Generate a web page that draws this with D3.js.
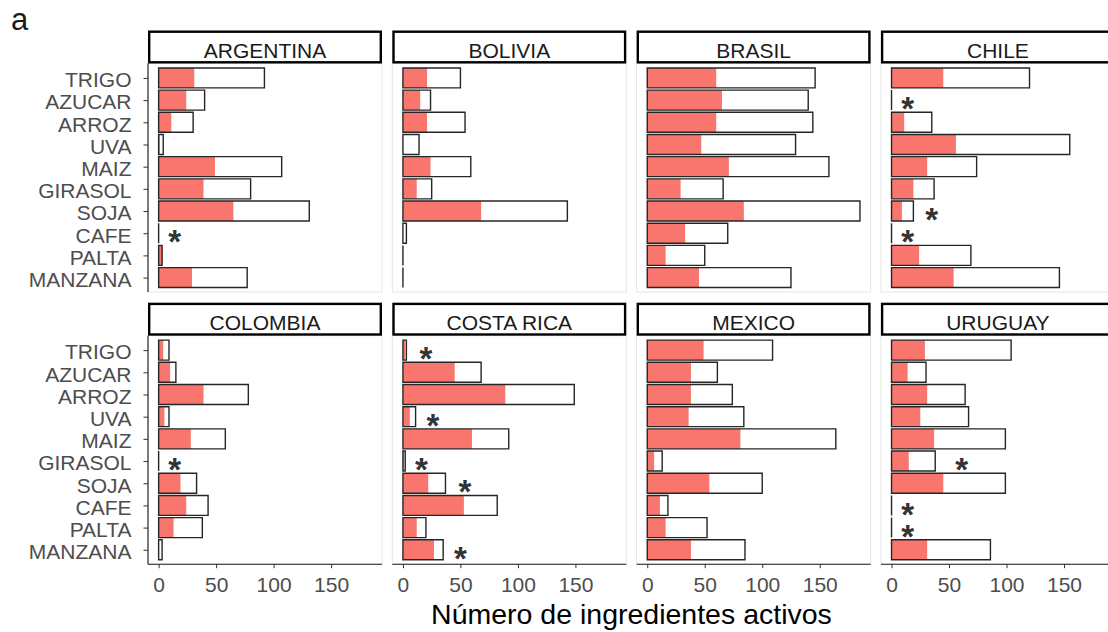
<!DOCTYPE html>
<html>
<head>
<meta charset="utf-8">
<script src="https://cdn.jsdelivr.net/npm/d3@7"></script>
<style>
  html, body { margin: 0; padding: 0; background: #fff; }
  svg { display: block; font-family: "Liberation Sans", Arial, sans-serif; }
</style>
</head>
<body>
<svg id="chart" width="1108" height="632"></svg>
<script>
// Countries (facets, row-major) and crops (rows of every facet)
const countries = ["ARGENTINA", "BOLIVIA", "BRASIL", "CHILE",
                   "COLOMBIA", "COSTA RICA", "MEXICO", "URUGUAY"];
const crops = ["TRIGO", "AZUCAR", "ARROZ", "UVA", "MAIZ",
               "GIRASOL", "SOJA", "CAFE", "PALTA", "MANZANA"];

// Total active ingredients registered per crop (one list per country)
const totalActivos = [
  [92, 40, 30, 4, 107, 80, 131, 0, 3, 77],     // ARGENTINA
  [50, 24, 54, 14, 59, 25, 143, 3, 0, 0],      // BOLIVIA
  [146, 140, 144, 129, 158, 66, 185, 70, 50, 125], // BRASIL
  [120, 0, 35, 155, 74, 37, 19, 0, 69, 146],   // CHILE
  [9, 15, 78, 9, 58, 0, 33, 43, 38, 3],        // COLOMBIA
  [3, 68, 149, 11, 92, 2, 37, 82, 20, 35],     // COSTA RICA
  [109, 61, 74, 84, 164, 13, 100, 18, 52, 85], // MEXICO
  [104, 30, 64, 67, 99, 38, 99, 0, 0, 86]      // URUGUAY
];

// Highlighted subset of those active ingredients (red part of each bar)
const activosDestacados = [
  [31, 24, 11, 1, 49, 39, 65, 0, 3, 29],
  [21, 15, 21, 0, 24, 12, 68, 0, 0, 0],
  [60, 65, 60, 47, 71, 29, 84, 33, 16, 45],
  [45, 0, 11, 56, 31, 19, 9, 0, 24, 54],
  [4, 10, 39, 5, 28, 0, 19, 24, 13, 0],
  [2, 45, 89, 6, 60, 1, 22, 53, 12, 27],
  [49, 38, 38, 36, 81, 6, 54, 11, 16, 38],
  [29, 14, 31, 25, 37, 15, 45, 0, 0, 31]
];

// Asterisk annotations: [country, crop, value on the x axis where the mark sits]
const asteriscos = [
  ["ARGENTINA", "CAFE", 14],
  ["CHILE", "AZUCAR", 14], ["CHILE", "SOJA", 35], ["CHILE", "CAFE", 14],
  ["COLOMBIA", "GIRASOL", 14],
  ["COSTA RICA", "TRIGO", 20], ["COSTA RICA", "UVA", 26], ["COSTA RICA", "GIRASOL", 16],
  ["COSTA RICA", "SOJA", 54], ["COSTA RICA", "MANZANA", 50],
  ["URUGUAY", "GIRASOL", 61], ["URUGUAY", "CAFE", 14], ["URUGUAY", "PALTA", 14]
];

const xTicks = [0, 50, 100, 150];
const xTitle = "Número de ingredientes activos";
const panelTag = "a";

// ---- layout ----
const svg = d3.select("#chart");
const nCols = 4;
const panelW = 234, panelH = 228.5;
const colStep = 244.3, rowStep = 272.2;
const left0 = 148, plotTop0 = 63.5;
const stripH = 33;
const red = "#F8766D";
const starSize = 33;

const maxVal = d3.max(totalActivos.flat());
const pad = maxVal * 0.05;
const x = d3.scaleLinear().domain([-pad, maxVal + pad]).range([0, panelW]);
const y = d3.scalePoint().domain(crops).range([0, panelH]).padding(0.65);
const bandH = y.step() * 0.9;

const barPath = d => {
  const x0 = x(0), x1 = x(d.total);
  const y0 = y(d.crop) - bandH / 2, y1 = y(d.crop) + bandH / 2;
  return `M${x0},${y0}H${x1}V${y1}H${x0}Z`;
};

countries.forEach((country, ci) => {
  const col = ci % nCols, row = Math.floor(ci / nCols);
  const px = left0 + col * colStep;
  const py = plotTop0 + row * rowStep;
  const g = svg.append("g").attr("transform", `translate(${px},${py})`);

  // light panel frame
  g.append("rect")
    .attr("x", 0).attr("y", 0).attr("width", panelW).attr("height", panelH)
    .attr("fill", "#fff").attr("stroke", "#e6e6e6").attr("stroke-width", 1);

  const rows = crops.map((crop, k) => ({
    crop, total: totalActivos[ci][k], part: activosDestacados[ci][k]
  }));

  // outlined total bars (white fill)
  g.selectAll("path.total").data(rows).join("path")
    .attr("class", "total")
    .attr("d", barPath)
    .attr("fill", "#fff");

  // highlighted part
  g.selectAll("rect.part").data(rows.filter(d => d.part > 0)).join("rect")
    .attr("class", "part")
    .attr("x", x(0))
    .attr("y", d => y(d.crop) - bandH / 2)
    .attr("width", d => x(d.part) - x(0))
    .attr("height", bandH)
    .attr("fill", red);

  // bar outlines on top
  g.selectAll("path.outline").data(rows).join("path")
    .attr("class", "outline")
    .attr("d", barPath)
    .attr("fill", "none")
    .attr("stroke", "#262626")
    .attr("stroke-width", 1.4);

  // asterisks
  g.selectAll("text.star").data(asteriscos.filter(a => a[0] === country)).join("text")
    .attr("class", "star")
    .attr("x", d => x(d[2]))
    .attr("y", d => y(d[1]) + 2 + 0.55 * starSize)
    .attr("text-anchor", "middle")
    .attr("font-size", starSize)
    .attr("font-weight", "bold")
    .attr("fill", "#333")
    .text("*");

  // y axis on the left column
  if (col === 0) {
    const ay = g.append("g").call(d3.axisLeft(y).tickSize(4.5).tickPadding(12));
    ay.select(".domain").attr("stroke", "#1a1a1a").attr("stroke-width", 1.1)
      .attr("d", `M0,0V${panelH}`);
    ay.selectAll(".tick line").attr("stroke", "#333");
    ay.selectAll(".tick text").attr("fill", "#4d4d4d").attr("font-size", 21)
      .attr("dy", "0.42em").attr("font-family", "Liberation Sans, Arial, sans-serif");
  }
  // x axis on the bottom row
  if (row === 1) {
    const ax = g.append("g").attr("transform", `translate(0,${panelH})`)
      .call(d3.axisBottom(x).tickValues(xTicks).tickSize(4).tickPadding(9));
    ax.select(".domain").attr("stroke", "#1a1a1a").attr("stroke-width", 1.1)
      .attr("d", `M0,0H${panelW}`);
    ax.selectAll(".tick line").attr("stroke", "#333");
    ax.selectAll(".tick text").attr("fill", "#4d4d4d").attr("font-size", 21)
      .attr("font-family", "Liberation Sans, Arial, sans-serif");
  }

  // facet strip
  const s = svg.append("g").attr("transform", `translate(${px},${py - stripH})`);
  s.append("rect")
    .attr("x", 1.2).attr("y", 1.2)
    .attr("width", panelW - 2.4).attr("height", stripH - 2.4)
    .attr("fill", "#fff").attr("stroke", "#000").attr("stroke-width", 2.4);
  s.append("text")
    .attr("x", panelW / 2).attr("y", stripH - 5.5)
    .attr("text-anchor", "middle")
    .attr("font-size", 21)
    .attr("fill", "#1a1a1a")
    .text(country);
});

// axis title
const fullW = (nCols - 1) * colStep + panelW;
svg.append("text")
  .attr("x", left0 + fullW / 2)
  .attr("y", 624)
  .attr("text-anchor", "middle")
  .attr("font-size", 28.5)
  .attr("fill", "#000")
  .text(xTitle);

// panel tag
svg.append("text")
  .attr("x", 11).attr("y", 29.5)
  .attr("font-size", 31)
  .attr("fill", "#1a1a1a")
  .text(panelTag);
</script>
</body>
</html>
